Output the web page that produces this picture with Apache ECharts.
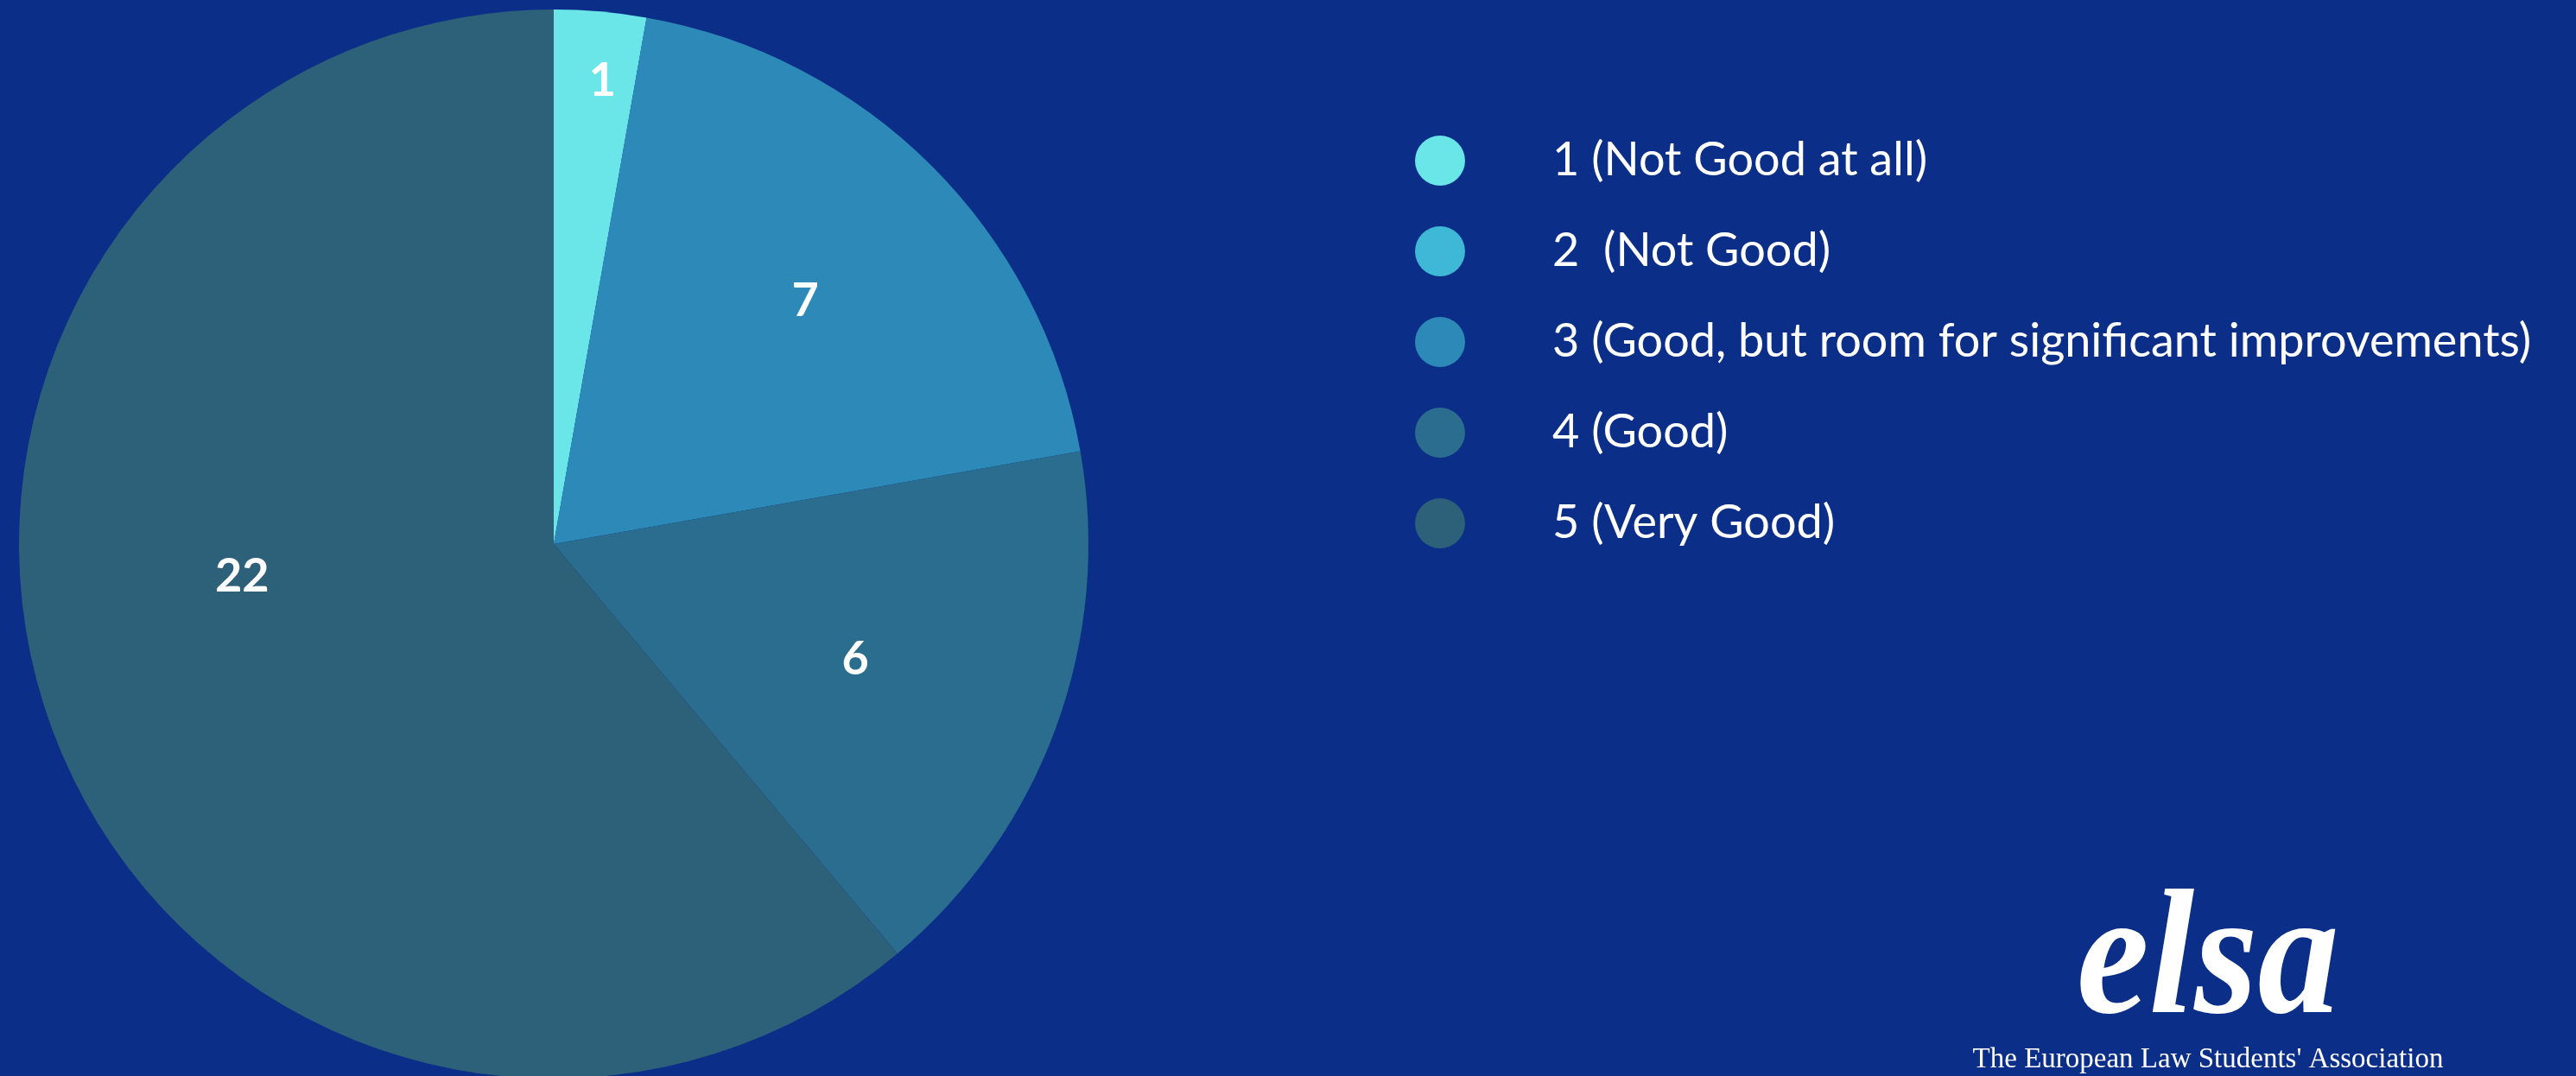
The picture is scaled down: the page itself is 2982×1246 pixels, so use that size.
<!DOCTYPE html>
<html>
<head>
<meta charset="utf-8">
<style>
  html, body { margin: 0; padding: 0; background: #0b2f88; }
  #chart { width: 2982px; height: 1246px; }
</style>
<script src="https://cdn.jsdelivr.net/npm/echarts@6/dist/echarts.min.js"></script>
</head>
<body>
<div id="chart"></div>
<script>
// Survey answers: number of respondents per rating
const categories = [
  '1 (Not Good at all)',
  '2  (Not Good)',
  '3 (Good, but room for significant improvements)',
  '4 (Good)',
  '5 (Very Good)'
];
const counts = [1, 0, 7, 6, 22];
const sliceColors = ['#6ae6e8', '#3fb7d6', '#2d8ab8', '#2a6d8e', '#2d6079'];

// Where each value label sits: fraction of the radius, and a small angular nudge (deg)
const labelRadiusFrac = [0.872, 0, 0.654, 0.604, 0.586];
const labelAngleNudge = [1, 0, 1, 1, 14];

const CX = 641, CY = 630, R = 619;
const total = counts.reduce((a, b) => a + b, 0);
const midAngles = [];
let acc = 0;
counts.forEach(v => { midAngles.push((acc + v / 2) / total * 360); acc += v; });

const chart = echarts.init(document.getElementById('chart'), null, { renderer: 'canvas' });

chart.setOption({
  backgroundColor: '#0b2f88',
  animation: false,
  color: sliceColors,
  legend: {
    orient: 'vertical',
    left: 1633,
    top: 152,
    icon: 'circle',
    itemWidth: 58,
    itemHeight: 58,
    itemGap: 47,
    selectedMode: false,
    data: categories,
    textStyle: {
      color: '#ffffff',
      fontFamily: 'Lato',
      fontSize: 54,
      padding: [0, 0, 0, 96]
    }
  },
  series: [{
    type: 'pie',
    center: [CX, CY],
    radius: R,
    startAngle: 90,
    clockwise: true,
    avoidLabelOverlap: false,
    stillShowZeroSum: true,
    itemStyle: { borderWidth: 0 },
    emphasis: { disabled: true },
    labelLine: { show: false },
    label: {
      show: true,
      position: 'inside',
      color: '#ffffff',
      fontFamily: 'Lato',
      fontWeight: 'bold',
      fontSize: 54,
      formatter: '{c}'
    },
    labelLayout: function (params) {
      const i = params.dataIndex;
      const a = (midAngles[i] + labelAngleNudge[i]) * Math.PI / 180;
      const r = R * labelRadiusFrac[i];
      return {
        x: CX + r * Math.sin(a),
        y: CY - r * Math.cos(a),
        align: 'center',
        verticalAlign: 'middle'
      };
    },
    data: categories.map((name, i) => ({
      name: name,
      value: counts[i],
      label: { show: counts[i] > 0 }
    }))
  }],
  graphic: [
    {
      type: 'text',
      x: 2556,
      y: 1222,
      scaleX: 0.92,
      style: {
        text: 'elsa',
        font: 'italic bold 205px "Liberation Serif"',
        fill: '#ffffff',
        textAlign: 'center',
        textVerticalAlign: 'bottom'
      }
    },
    {
      type: 'text',
      x: 2556,
      y: 1227,
      style: {
        text: "The European Law Students' Association",
        font: '33px "Liberation Serif"',
        fill: '#ffffff',
        textAlign: 'center',
        textVerticalAlign: 'middle'
      }
    }
  ]
});
</script>
</body>
</html>
